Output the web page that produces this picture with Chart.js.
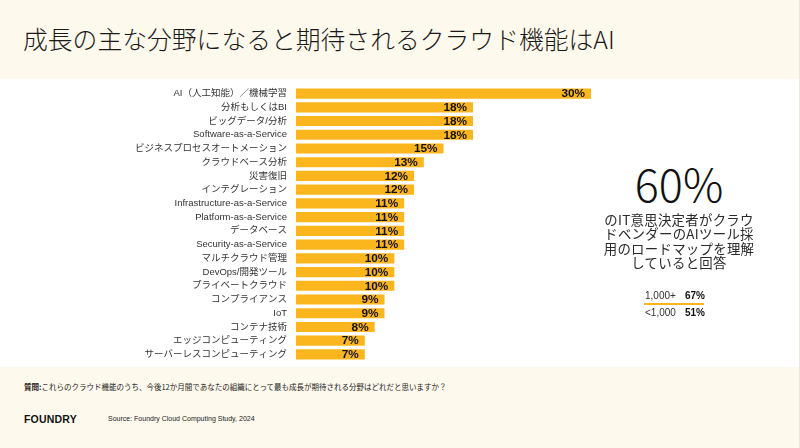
<!DOCTYPE html>
<html>
<head>
<meta charset="utf-8">
<script src="https://cdn.jsdelivr.net/npm/chart.js@4"></script>
<style>
  body { margin: 0; width: 800px; height: 448px; background: #fef9ed; position: relative; overflow: hidden;
         font-family: "Noto Sans CJK JP", "Liberation Sans", sans-serif; color: #222; }
  #band { position: absolute; left: 0; top: 79px; width: 800px; height: 288px; background: #fff; }
  #edge { position: absolute; left: 799px; top: 0; width: 1px; height: 448px; background: #ece8dc; }
  #title { position: absolute; left: 23px; top: 20px; font-size: 24.8px; font-weight: 300; white-space: nowrap; color: #1a1a1a; }
  #wrap { position: absolute; left: 0; top: 72px; width: 600px; height: 304px; }
  #big { position: absolute; left: 600px; width: 158px; top: 150px; text-align: center; font-size: 45px; font-weight: 300; color: #111; }
  #note { position: absolute; left: 598px; width: 162px; top: 212px; text-align: center; font-size: 13.4px; line-height: 14.3px; letter-spacing: 0.3px; color: #2a2a2a; }
  .row { position: absolute; left: 645px; font-family: "Liberation Sans", sans-serif; font-size: 10px; color: #333; white-space: nowrap; }
  .row b { position: absolute; left: 40px; color: #111; }
  #line { position: absolute; left: 644px; top: 303px; width: 60px; height: 2px; background: #fcb61d; }
  #q { position: absolute; left: 24px; top: 381px; font-size: 7.5px; white-space: nowrap; color: #222; }
  #logo { position: absolute; left: 24px; top: 413px; font-family: "Liberation Sans", sans-serif; font-weight: bold; font-size: 10.5px; letter-spacing: 0.2px; color: #111; }
  #src { position: absolute; left: 108px; top: 415px; font-family: "Liberation Sans", sans-serif; font-size: 7px; color: #222; }
</style>
</head>
<body>
<div id="band"></div>
<div id="edge"></div>
<div id="title">成長の主な分野になると期待されるクラウド機能はAI</div>
<div id="wrap"><canvas id="myChart"></canvas></div>
<div id="big">60%</div>
<div id="note">のIT意思決定者がクラウ<br>ドベンダーのAIツール採<br>用のロードマップを理解<br>していると回答</div>
<div class="row" style="top:290px">1,000+<b>67%</b></div>
<div id="line"></div>
<div class="row" style="top:307px">&lt;1,000<b>51%</b></div>
<div id="q"><b>質問:</b>これらのクラウド機能のうち、今後12か月間であなたの組織にとって最も成長が期待される分野はどれだと思いますか？</div>
<div id="logo">FOUNDRY</div>
<div id="src">Source: Foundry Cloud Computing Study, 2024</div>
<script>
let labels = ['AI（人工知能）／機械学習', '分析もしくはBI', 'ビッグデータ/分析', 'Software-as-a-Service',
  'ビジネスプロセスオートメーション', 'クラウドベース分析', '災害復旧', 'インテグレーション',
  'Infrastructure-as-a-Service', 'Platform-as-a-Service', 'データベース', 'Security-as-a-Service',
  'マルチクラウド管理', 'DevOps/開発ツール', 'プライベートクラウド', 'コンプライアンス', 'IoT',
  'コンテナ技術', 'エッジコンピューティング', 'サーバーレスコンピューティング'];
let values = [30, 18, 18, 18, 15, 13, 12, 12, 11, 11, 11, 11, 10, 10, 10, 9, 9, 8, 7, 7];

const valueLabels = {
  id: 'valueLabels',
  afterDatasetsDraw(chart) {
    const ctx = chart.ctx;
    const meta = chart.getDatasetMeta(0);
    ctx.save();
    ctx.font = 'bold 11.8px "Liberation Sans", Arial, sans-serif';
    ctx.fillStyle = '#111';
    ctx.textAlign = 'right';
    ctx.textBaseline = 'middle';
    meta.data.forEach((bar, i) => {
      ctx.fillText(values[i] + '%', bar.x - 6, bar.y + 0.5);
    });
    ctx.restore();
  }
};

const myChart = new Chart(document.getElementById('myChart'), {
  type: 'bar',
  data: {
    labels: labels,
    datasets: [{
      data: values,
      backgroundColor: '#fcb61d',
      barPercentage: 0.74,
      categoryPercentage: 1
    }]
  },
  options: {
    indexAxis: 'y',
    responsive: true,
    maintainAspectRatio: false,
    animation: false,
    layout: { padding: { left: 0, right: 9, top: 6, bottom: 7.2 } },
    plugins: { legend: { display: false }, tooltip: { enabled: false } },
    scales: {
      x: { display: false, min: 0, max: 30 },
      y: {
        grid: { display: false, drawTicks: false },
        border: { display: false },
        afterFit: (scale) => { scale.width = 296; },
        ticks: {
          autoSkip: false,
          padding: 9,
          color: '#333',
          font: { size: 9.5, family: '"Liberation Sans", "Noto Sans CJK JP", sans-serif' }
        }
      }
    }
  },
  plugins: [valueLabels]
});
</script>
</body>
</html>
